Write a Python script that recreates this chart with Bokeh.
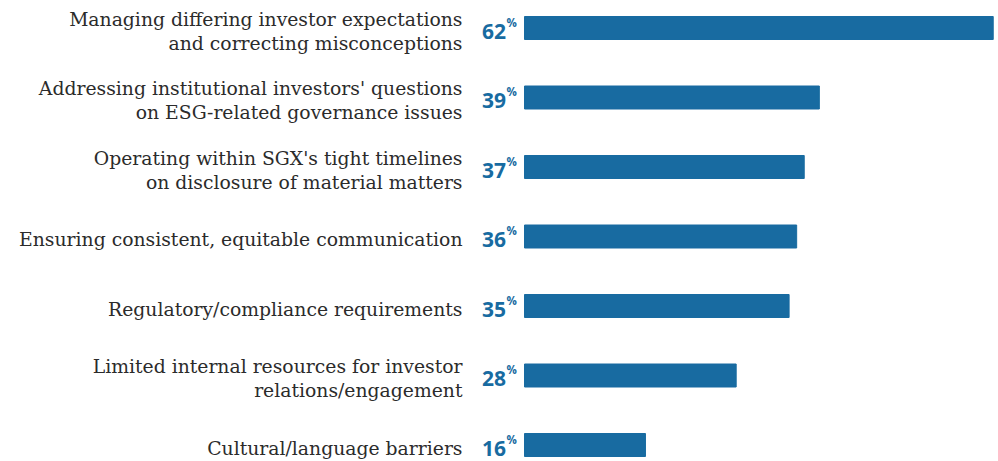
from bokeh.plotting import figure
from bokeh.models import ColumnDataSource, Range1d
from bokeh.core.properties import value
from bokeh.embed import file_html
from bokeh.resources import INLINE

categories = [
    "Managing differing investor expectations\nand correcting misconceptions",
    "Addressing institutional investors' questions\non ESG-related governance issues",
    "Operating within SGX's tight timelines\non disclosure of material matters",
    "Ensuring consistent, equitable communication",
    "Regulatory/compliance requirements",
    "Limited internal resources for investor\nrelations/engagement",
    "Cultural/language barriers",
]
values = [62, 39, 37, 36, 35, 28, 16]

BAR = "#186ba1"
LABEL = "#2b2b2b"

idx = list(range(len(values)))
first, second_y, second = [], [], []
single_y, single = [], []
first_y = []
for i, c in enumerate(categories):
    parts = c.split("\n")
    if len(parts) == 2:
        first.append(parts[0]); first_y.append(i)
        second.append(parts[1]); second_y.append(i)
    else:
        single.append(parts[0]); single_y.append(i)

src = ColumnDataSource(dict(y=idx, v=values, t=[str(v) for v in values], pct=["%"] * len(values)))

W, H = 998, 461
px_per = 7.56
x0 = 524
y0 = 27.5
step = 69.5
p = figure(width=W, height=H, output_backend="svg", toolbar_location=None,
           x_axis_type=None, y_axis_type=None,
           x_range=Range1d(-x0 / px_per, (W - x0) / px_per),
           y_range=Range1d((H - y0) / step, -y0 / step),
           min_border=0, outline_line_color=None)
p.grid.visible = False
p.background_fill_color = "white"
p.border_fill_color = "white"

p.hbar(y="y", left=0, right="v", height=23 / step, color=BAR, source=src)

p.text(x=0, y="y", text="t", source=src, x_offset=-18.5, y_offset=3,
       text_align="right", text_baseline="alphabetic",
       text_font=value("Open Sans"), text_font_style="bold",
       text_font_size="21px", text_color=BAR)
p.text(x=0, y="y", text="pct", source=src, x_offset=-18, y_offset=-6,
       text_align="left", text_baseline="alphabetic",
       text_font=value("Open Sans"), text_font_style="bold",
       text_font_size="11.5px", text_color=BAR)

common = dict(text_align="right", text_baseline="alphabetic",
              text_font=value("DejaVu Serif"), text_font_size="18.8px",
              text_color=LABEL, x_offset=-62)
p.text(x=[0] * len(single), y=single_y, text=single, y_offset=3, **common)
p.text(x=[0] * len(first), y=first_y, text=first, y_offset=-9, **common)
p.text(x=[0] * len(second), y=second_y, text=second, y_offset=15, **common)

open("out.html", "w").write(file_html(p, INLINE))
